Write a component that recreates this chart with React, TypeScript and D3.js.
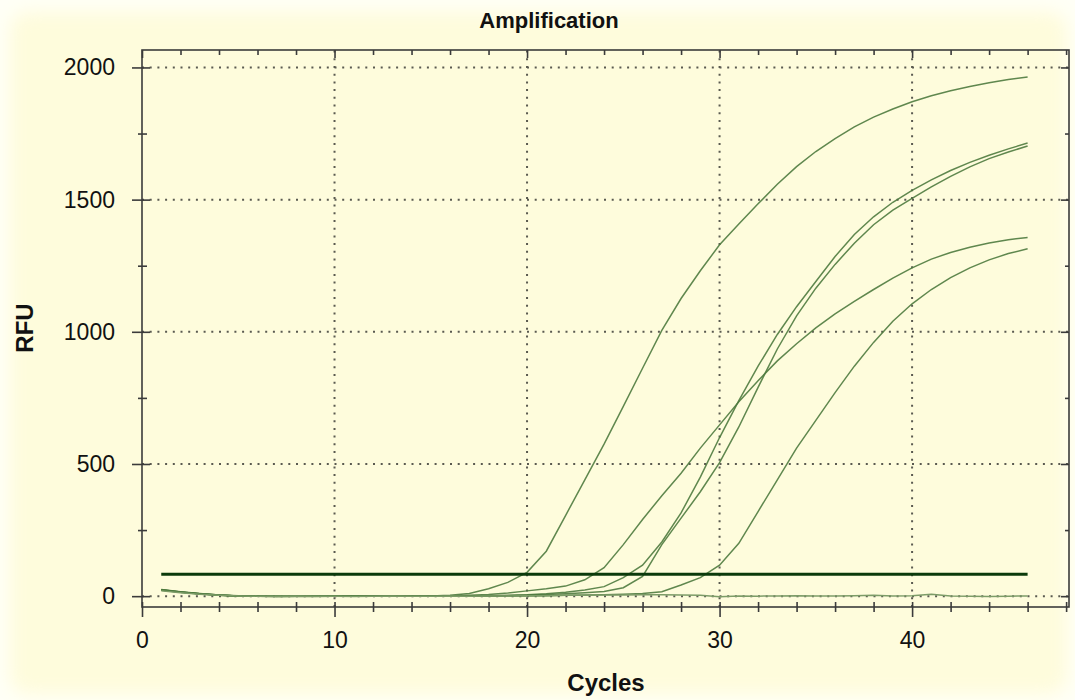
import React, { useEffect, useRef } from "react";
import * as d3 from "d3";

// qPCR amplification run, RFU per cycle
const cycles = [1, 2, 3, 4, 5, 6, 7, 8, 9, 10, 11, 12, 13, 14, 15, 16, 17, 18, 19, 20, 21, 22, 23, 24, 25, 26, 27, 28, 29, 30, 31, 32, 33, 34, 35, 36, 37, 38, 39, 40, 41, 42, 43, 44, 45, 46];

const wellA = [24, 16, 9, 4, 1, 0, -1, 0, 1, 0, 0, 2, 1, 0, 1, 3, 10, 28, 52, 90, 170, 305, 440, 575, 718, 862, 1005, 1126, 1231, 1329, 1408, 1484, 1558, 1625, 1682, 1731, 1775, 1812, 1843, 1870, 1893, 1912, 1928, 1942, 1954, 1964];
const wellB = [22, 15, 8, 3, 1, 0, 0, -1, 0, 1, 0, 1, 0, 1, 0, 1, 3, 6, 12, 20, 28, 38, 62, 108, 195, 290, 380, 465, 560, 648, 735, 815, 890, 955, 1015, 1068, 1115, 1160, 1203, 1242, 1275, 1300, 1320, 1336, 1348, 1357];
const wellC = [25, 17, 10, 4, 2, 0, 0, 1, 0, 0, 1, 0, 1, 0, 0, 1, 1, 2, 3, 5, 9, 15, 23, 36, 70, 117, 205, 315, 450, 600, 740, 870, 990, 1095, 1190, 1285, 1368, 1435, 1490, 1535, 1575, 1610, 1641, 1668, 1692, 1714];
const wellD = [23, 15, 9, 3, 1, 0, -1, 0, 0, 1, 0, 1, 0, 0, 1, 0, 1, 1, 2, 4, 6, 9, 13, 18, 32, 75, 195, 295, 395, 505, 640, 790, 935, 1060, 1165, 1255, 1335, 1405, 1460, 1505, 1548, 1588, 1624, 1655, 1680, 1703];
const wellE = [24, 16, 9, 4, 1, 0, 0, 0, -1, 0, 1, 0, 0, 1, 0, 0, 0, 1, 1, 1, 2, 3, 4, 5, 7, 10, 17, 42, 70, 117, 200, 320, 440, 560, 665, 770, 870, 960, 1040, 1106, 1160, 1205, 1242, 1272, 1296, 1314];
const ntc = [20, 13, 7, 3, 1, 0, 0, 1, 0, 0, -1, 0, 1, 0, 0, 1, 0, 1, 1, 2, 2, 3, 3, 4, 4, 5, 5, 4, 3, -2, 1, 0, 1, 2, 1, 1, 2, 3, 1, 2, 7, 1, 0, -1, 0, 1];

const threshold = 83;

const xTicks = [0, 10, 20, 30, 40];
const xMinor = [2, 4, 6, 8, 12, 14, 16, 18, 22, 24, 26, 28, 32, 34, 36, 38, 42, 44, 46, 48];
const yTicks = [0, 500, 1000, 1500, 2000];
const yMinor = [250, 750, 1250, 1750];

export default function App() {
  const ref = useRef<SVGSVGElement>(null);

  useEffect(() => {
    const width = 1075;
    const height = 700;
    const svg = d3.select(ref.current);
    svg.selectAll("*").remove();

    const left = 142, right = 1069, top = 50, bottom = 607;

    const x = d3.scaleLinear().domain([0, 48.15]).range([left, right]);
    const y = d3.scaleLinear().domain([-41, 2066]).range([bottom, top]);

    // background with soft whitish edge
    const defs = svg.append("defs");
    defs.append("filter").attr("id", "soft")
      .attr("x", "-10%").attr("y", "-10%").attr("width", "120%").attr("height", "120%")
      .append("feGaussianBlur").attr("stdDeviation", 9);

    svg.append("rect").attr("width", width).attr("height", height).attr("fill", "#fffff6");
    svg.append("rect")
      .attr("x", 10).attr("y", 12).attr("width", width - 18).attr("height", height - 18)
      .attr("rx", 18)
      .attr("fill", "#fefcdc")
      .attr("filter", "url(#soft)");

    // dotted grid
    const grid = svg.append("g").attr("stroke", "#5a5a50").attr("stroke-width", 2).attr("stroke-dasharray", "2 5.7");
    grid.selectAll("line.gx").data(xTicks.filter(d => d > 0)).join("line")
      .attr("x1", d => x(d)).attr("x2", d => x(d))
      .attr("y1", bottom).attr("y2", top);
    grid.selectAll("line.gy").data(yTicks).join("line")
      .attr("class", "gy")
      .attr("y1", d => y(d)).attr("y2", d => y(d))
      .attr("x1", left).attr("x2", right);

    const axisColor = "#3b3b3b";
    const styleAxis = (g: any) => {
      g.select(".domain").remove();
      g.selectAll(".tick line").attr("stroke", axisColor).attr("stroke-width", 1.6);
      g.selectAll("text").attr("fill", "#111").style("font-family", "Liberation Sans, Arial, sans-serif").style("font-size", "23px");
    };

    // bottom axis
    svg.append("g").attr("transform", `translate(0,${bottom})`)
      .call(d3.axisBottom(x).tickValues(xMinor).tickSize(5).tickFormat(() => ""))
      .call(styleAxis)
      .call(g => g.selectAll(".tick line").attr("y1", -5));
    svg.append("g").attr("transform", `translate(0,${bottom})`)
      .call(d3.axisBottom(x).tickValues(xTicks).tickSize(10).tickPadding(15).tickFormat(d3.format("d")))
      .call(styleAxis)
      .call(g => g.selectAll(".tick line").attr("y1", -5));

    // top axis (inward ticks)
    svg.append("g").attr("transform", `translate(0,${top})`)
      .call(d3.axisTop(x).tickValues(xMinor).tickSize(-5).tickFormat(() => ""))
      .call(styleAxis);
    svg.append("g").attr("transform", `translate(0,${top})`)
      .call(d3.axisTop(x).tickValues(xTicks).tickSize(-8).tickFormat(() => ""))
      .call(styleAxis);

    // left axis
    svg.append("g").attr("transform", `translate(${left},0)`)
      .call(d3.axisLeft(y).tickValues(yMinor).tickSize(4).tickFormat(() => ""))
      .call(styleAxis)
      .call(g => g.selectAll(".tick line").attr("x1", 5));
    svg.append("g").attr("transform", `translate(${left},0)`)
      .call(d3.axisLeft(y).tickValues(yTicks).tickSize(10).tickPadding(17).tickFormat(d3.format("d")))
      .call(styleAxis)
      .call(g => g.selectAll(".tick line").attr("x1", 8));

    // right axis (inward ticks)
    svg.append("g").attr("transform", `translate(${right},0)`)
      .call(d3.axisRight(y).tickValues(yMinor).tickSize(-4).tickFormat(() => ""))
      .call(styleAxis);
    svg.append("g").attr("transform", `translate(${right},0)`)
      .call(d3.axisRight(y).tickValues(yTicks).tickSize(-8).tickFormat(() => ""))
      .call(styleAxis);

    // frame
    svg.append("rect")
      .attr("x", left).attr("y", top).attr("width", right - left).attr("height", bottom - top)
      .attr("fill", "none").attr("stroke", axisColor).attr("stroke-width", 1.6);

    // curves
    const line = d3.line<number>()
      .x((_, i) => x(cycles[i]))
      .y(d => y(d));

    const wells = [wellA, wellB, wellC, wellD, wellE];
    svg.append("g").selectAll("path").data(wells).join("path")
      .attr("d", d => line(d))
      .attr("fill", "none")
      .attr("stroke", "#4e7a3e")
      .attr("stroke-width", 1.5)
      .attr("stroke-opacity", 0.9);

    svg.append("path")
      .attr("d", line(ntc))
      .attr("fill", "none")
      .attr("stroke", "#7d9c68")
      .attr("stroke-width", 1.5);

    // threshold
    svg.append("line")
      .attr("x1", x(cycles[0])).attr("x2", x(cycles[cycles.length - 1]))
      .attr("y1", y(threshold)).attr("y2", y(threshold))
      .attr("stroke", "#0b3a0b").attr("stroke-width", 3);

    // titles
    const font = "Liberation Sans, Arial, sans-serif";
    svg.append("text")
      .attr("x", 549).attr("y", 28)
      .attr("text-anchor", "middle")
      .style("font-family", font).style("font-weight", "bold").style("font-size", "22px")
      .attr("fill", "#111")
      .text("Amplification");

    svg.append("text")
      .attr("x", 606).attr("y", 691)
      .attr("text-anchor", "middle")
      .style("font-family", font).style("font-weight", "bold").style("font-size", "24px")
      .attr("fill", "#111")
      .text("Cycles");

    svg.append("text")
      .attr("transform", "translate(33,328) rotate(-90)")
      .attr("text-anchor", "middle")
      .style("font-family", font).style("font-weight", "bold").style("font-size", "24px")
      .attr("fill", "#111")
      .text("RFU");
  }, []);

  return (
    <svg ref={ref} width={1075} height={700} style={{ position: "absolute", left: 0, top: 0 }} />
  );
}
